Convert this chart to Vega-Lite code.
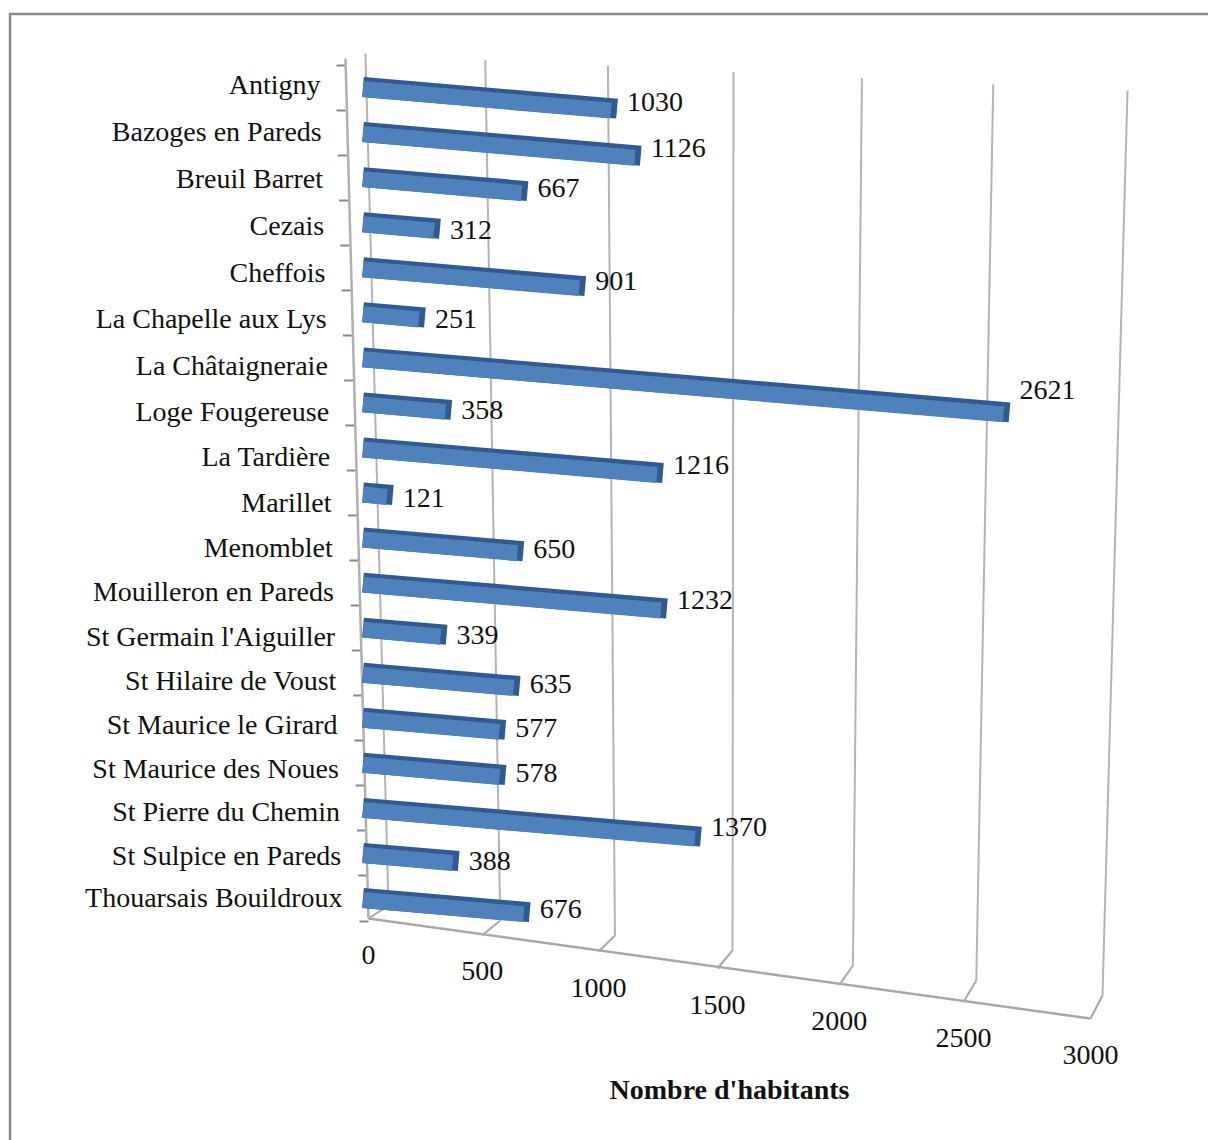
{
"$schema":"https://vega.github.io/schema/vega-lite/v6.json",
"width":1205,"height":1135,
"padding":{"left":10,"top":14,"right":0,"bottom":0},
"autosize":{"type":"none"},
"background":"white",
"config":{"view":{"stroke":"#8c8c8c","strokeWidth":2.5},"font":"Liberation Serif"},
"data":{"values":[
{"commune":"Antigny","habitants":1030},
{"commune":"Bazoges en Pareds","habitants":1126},
{"commune":"Breuil Barret","habitants":667},
{"commune":"Cezais","habitants":312},
{"commune":"Cheffois","habitants":901},
{"commune":"La Chapelle aux Lys","habitants":251},
{"commune":"La Châtaigneraie","habitants":2621},
{"commune":"Loge Fougereuse","habitants":358},
{"commune":"La Tardière","habitants":1216},
{"commune":"Marillet","habitants":121},
{"commune":"Menomblet","habitants":650},
{"commune":"Mouilleron en Pareds","habitants":1232},
{"commune":"St Germain l'Aiguiller","habitants":339},
{"commune":"St Hilaire de Voust","habitants":635},
{"commune":"St Maurice le Girard","habitants":577},
{"commune":"St Maurice des Noues","habitants":578},
{"commune":"St Pierre du Chemin","habitants":1370},
{"commune":"St Sulpice en Pareds","habitants":388},
{"commune":"Thouarsais Bouildroux","habitants":676}
]},
"encoding":{
 "y":{"field":"commune","type":"nominal","sort":null,"title":null,
  "scale":{"range":[50.5,906.5],"paddingInner":0,"paddingOuter":0},
  "axis":{"orient":"left","offset":-335,"labelFontSize":28,"labelColor":"#111","labelFont":"Liberation Serif","labelLimit":400,"labelPadding":16,"labelOverlap":false,"bandPosition":0,"tickBand":"extent","tickColor":"#888","tickWidth":2,"tickSize":9,"domainColor":"#b0b0b0","domainWidth":2.5,
   "encoding":{
    "labels":{"dx":{"value":{"expr":"datum.index*22"}},"dy":{"value":{"expr":"-2+3*datum.index+44*datum.index*(1-datum.index)"}}},
    "ticks":{"x":{"value":{"expr":"max(datum.index,0)*23"}},"x2":{"value":{"expr":"max(datum.index,0)*23-9"}}},
    "domain":{"x":{"value":0},"x2":{"value":23},"y":{"value":44},"y2":{"value":904}}
   }}},
 "x":{"field":"habitants","type":"quantitative","title":"Nombre d'habitants",
  "scale":{"domain":[0,3000],"range":[353,1093],"nice":false,"zero":true},
  "axis":{"values":[0,500,1000,1500,2000,2500,3000],"format":"d","grid":true,"gridColor":"#b4b4b4","gridWidth":2,"tickColor":"#a8a8a8","tickWidth":2,"domainColor":"#a8a8a8","domainWidth":2.5,"labelFontSize":28,"labelColor":"#111","labelFont":"Liberation Serif","labelOverlap":false,"labelBound":false,"labelFlush":false,
   "titleFontSize":28,"titleFontWeight":"bold","titleColor":"#111","titleFont":"Liberation Serif","titleX":719,"titleY":-59,"titleBaseline":"middle","titleAlign":"center",
   "encoding":{
    "grid":{"x":{"value":{"expr":"355+datum.value*0.254-52*(datum.value/3000)*(1-datum.value/3000)"}},"x2":{"value":{"expr":"378+datum.value*0.238-52*(datum.value/3000)*(1-datum.value/3000)"}},"y":{"value":{"expr":"39+datum.value*0.01233-height"}},"y2":{"value":{"expr":"891+datum.value*0.03-height"}}},
    "ticks":{"x":{"value":{"expr":"378+datum.value*0.238-52*(datum.value/3000)*(1-datum.value/3000)"}},"x2":{"value":{"expr":"358+datum.value*0.2407-48*(datum.value/3000)*(1-datum.value/3000)"}},"y":{"value":{"expr":"891+datum.value*0.03-height"}},"y2":{"value":{"expr":"904+datum.value/30-height"}}},
    "domain":{"x":{"value":358},"x2":{"value":1080},"y":{"value":{"expr":"904-height"}},"y2":{"value":{"expr":"1004-height"}}},
    "labels":{"x":{"value":{"expr":"358+datum.value*0.2407-48*(datum.value/3000)*(1-datum.value/3000)"}},"y":{"value":{"expr":"941+datum.value/30-height"}},"baseline":{"value":"middle"},"align":{"value":"center"}}
   }}}
},
"layer":[
 {"mark":{"type":"rule","stroke":"#2f5b92","strokeWidth":20,"strokeCap":"butt"},
  "encoding":{"x2":{"datum":0},"y2":{"field":"commune"},
   "yOffset":{"field":"habitants","type":"quantitative","scale":{"domain":[0,3000],"range":[22.5,85.5]}}}},
 {"mark":{"type":"rule","stroke":"#4f81bd","strokeWidth":16,"strokeCap":"butt","xOffset":-6,"y2Offset":2},
  "encoding":{"x2":{"datum":0},"y2":{"field":"commune"},
   "yOffset":{"field":"habitants","type":"quantitative","scale":{"domain":[0,3000],"range":[24.5,87.5]}}}},
 {"mark":{"type":"text","align":"left","baseline":"middle","dx":10,"fontSize":28,"font":"Liberation Serif","color":"#111"},
  "encoding":{"text":{"field":"habitants","type":"quantitative"},
   "yOffset":{"field":"habitants","type":"quantitative","scale":{"domain":[0,3000],"range":[27.5,60.5]}}}}
],
"resolve":{"scale":{"yOffset":"independent"}}
}
